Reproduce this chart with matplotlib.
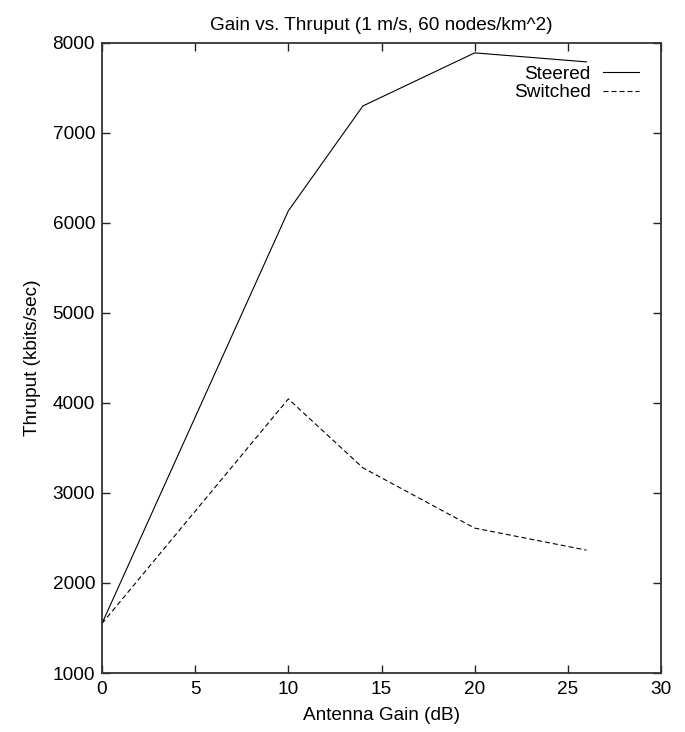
import matplotlib
matplotlib.use('Agg')
import matplotlib.pyplot as plt

plt.rcParams['font.family'] = ['Liberation Sans', 'DejaVu Sans']

gain = [0, 10, 14, 20, 26]
steered = [1550, 6135, 7300, 7890, 7790]
switched = [1550, 4045, 3280, 2610, 2365]

fig = plt.figure(figsize=(6.85, 7.32), dpi=100)
ax = fig.add_axes([0.1489, 0.0806, 0.8161, 0.8607])

ax.plot(gain, steered, color='black', lw=0.8, label='Steered')
ax.plot(gain, switched, color='black', lw=0.8, dashes=(4.5, 2.7), label='Switched')

ax.set_xlim(0, 30)
ax.set_ylim(1000, 8000)
ax.set_xticks(range(0, 31, 5))
ax.set_yticks(range(1000, 8001, 1000))
ax.tick_params(direction='in', length=6, width=1.0, top=True, right=True,
               labelsize=13.7, colors='#222222', labelcolor='black')
ax.tick_params(axis='x', pad=6)
ax.tick_params(axis='y', pad=5)
for s in ax.spines.values():
    s.set_linewidth(1.3)
    s.set_color('#333333')

ax.set_xlabel('Antenna Gain (dB)', fontsize=13.7, labelpad=6)
ax.set_ylabel('Thruput (kbits/sec)', fontsize=13.7, labelpad=8)
ax.set_title('Gain vs. Thruput (1 m/s, 60 nodes/km^2)', fontsize=13.7, pad=9)

ax.legend(loc='upper right', frameon=False, markerfirst=False, fontsize=13.7,
          handlelength=1.9, handletextpad=0.65, labelspacing=0.05,
          borderaxespad=0.3, bbox_to_anchor=(0.985, 0.985))

fig.savefig('out.png', dpi=100)
